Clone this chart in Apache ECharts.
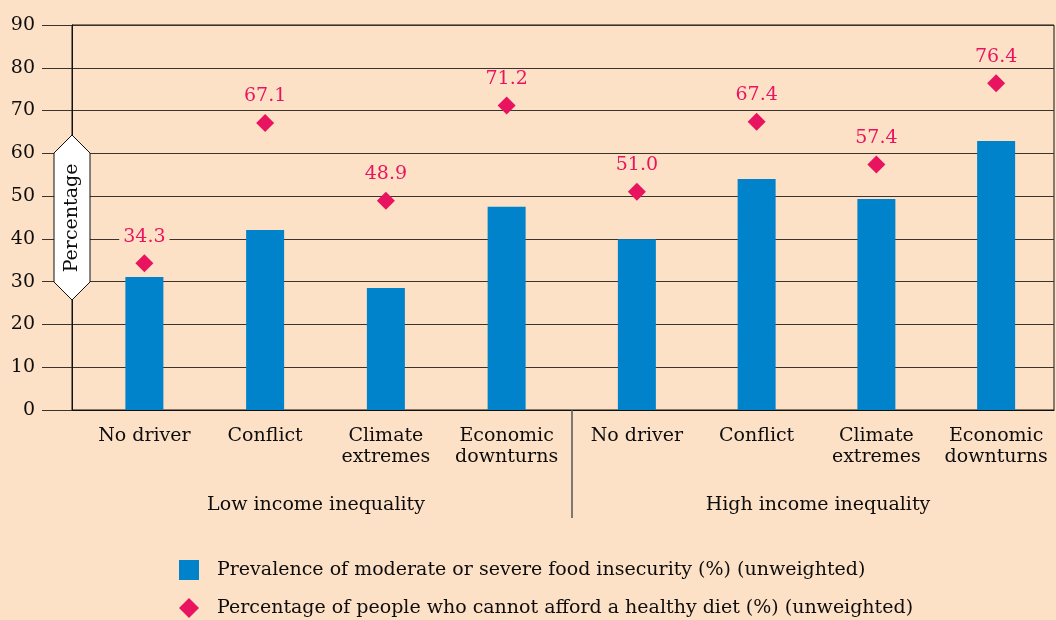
<!DOCTYPE html>
<html>
<head>
<meta charset="utf-8">
<script src="https://cdn.jsdelivr.net/npm/echarts@6/dist/echarts.min.js"></script>
<style>
  html, body { margin: 0; padding: 0; background: #fde1c6; }
  #chart { width: 1056px; height: 620px; }
</style>
</head>
<body>
<div id="chart"></div>
<script>
// categories for each income group
var drivers = ['No driver', 'Conflict', 'Climate\nextremes', 'Economic\ndownturns']
var groups = ['Low income inequality', 'High income inequality']
// food insecurity bars (low group, high group)
var insecurityLow = [31.1, 42.1, 28.5, 47.5]
var insecurityHigh = [39.9, 54.0, 49.3, 62.9]
// cannot afford healthy diet (diamonds)
var dietLow = [34.3, 67.1, 48.9, 71.2]
var dietHigh = [51.0, 67.4, 57.4, 76.4]
var yTicks = { min: 0, max: 90, interval: 10 }

var barName = 'Prevalence of moderate or severe food insecurity (%) (unweighted)'
var dotName = 'Percentage of people who cannot afford a healthy diet (%) (unweighted)'

var bg = '#fde1c6'
var font = 'DejaVu Serif'
var ink = '#0d0d0d'
var blue = '#0083ca'
var pink = '#e9145f'

var chart = echarts.init(document.getElementById('chart'))

function dataGrid (left) {
  return { left: left, width: 483, top: 25, bottom: 210 }
}
function catAxis (idx) {
  return {
    type: 'category',
    gridIndex: idx,
    data: drivers,
    axisLine: { show: false },
    axisTick: { show: false },
    axisLabel: {
      interval: 0,
      margin: 16,
      fontFamily: font,
      fontSize: 19,
      lineHeight: 21,
      color: ink,
      verticalAlign: 'top'
    }
  }
}
function hiddenY (idx) {
  return { type: 'value', gridIndex: idx, min: yTicks.min, max: yTicks.max, show: false }
}
function bars (idx, values) {
  return {
    name: barName,
    type: 'bar',
    xAxisIndex: idx,
    yAxisIndex: idx,
    barWidth: 38,
    itemStyle: { color: blue },
    data: values
  }
}
function dots (idx, values) {
  return {
    name: dotName,
    type: 'scatter',
    xAxisIndex: idx,
    yAxisIndex: idx,
    symbol: 'diamond',
    symbolSize: 18,
    itemStyle: { color: pink, opacity: 1 },
    label: {
      show: true,
      position: 'top',
      distance: 8,
      color: pink,
      fontFamily: font,
      fontSize: 19,
      backgroundColor: bg,
      padding: [0, 4],
      formatter: function (p) { return p.value.toFixed(1) }
    },
    data: values
  }
}

var option = {
  backgroundColor: bg,
  animation: false,
  grid: [
    // frame with the value axis and grid lines
    { left: 72, right: 2, top: 25, bottom: 210, show: true, borderColor: '#111', borderWidth: 1 },
    dataGrid(84),
    dataGrid(577)
  ],
  xAxis: [
    {
      type: 'value',
      gridIndex: 0,
      min: 0,
      max: 1,
      axisLine: { show: true, lineStyle: { color: '#111', width: 1 } },
      axisTick: { show: false },
      axisLabel: { show: false },
      splitLine: { show: false }
    },
    catAxis(1),
    catAxis(2)
  ],
  yAxis: [
    {
      type: 'value',
      gridIndex: 0,
      min: yTicks.min,
      max: yTicks.max,
      interval: yTicks.interval,
      axisLine: { show: true, lineStyle: { color: '#111', width: 1 } },
      axisTick: { show: true, length: 30, lineStyle: { color: '#3b342d' } },
      axisLabel: { margin: 37, fontFamily: font, fontSize: 19, color: ink },
      splitLine: { show: true, lineStyle: { color: '#3b342d', width: 1 } }
    },
    hiddenY(1),
    hiddenY(2)
  ],
  legend: {
    orient: 'vertical',
    left: 179,
    top: 560,
    padding: 0,
    itemWidth: 20,
    itemHeight: 20,
    itemGap: 18,
    textStyle: { fontFamily: font, fontSize: 19, color: ink, padding: [0, 0, 0, 13] },
    data: [
      { name: barName, icon: 'rect' },
      { name: dotName, icon: 'diamond' }
    ]
  },
  graphic: [
    {
      type: 'polygon',
      z: 10,
      shape: { points: [[54, 153], [72, 135], [90, 153], [90, 282], [72, 300], [54, 282]] },
      style: { fill: '#ffffff', stroke: '#111', lineWidth: 1 }
    },
    {
      type: 'text',
      z: 11,
      x: 72,
      y: 218,
      rotation: Math.PI / 2,
      style: { text: 'Percentage', font: '19px "DejaVu Serif"', fill: ink, align: 'center', verticalAlign: 'middle' }
    },
    {
      type: 'line',
      z: 10,
      shape: { x1: 572, y1: 410, x2: 572, y2: 518 },
      style: { stroke: '#555', lineWidth: 1.5 }
    },
    {
      type: 'text',
      x: 316,
      y: 505,
      style: { text: groups[0], font: '19px "DejaVu Serif"', fill: ink, align: 'center', verticalAlign: 'middle' }
    },
    {
      type: 'text',
      x: 818,
      y: 505,
      style: { text: groups[1], font: '19px "DejaVu Serif"', fill: ink, align: 'center', verticalAlign: 'middle' }
    }
  ],
  series: [
    bars(1, insecurityLow),
    bars(2, insecurityHigh),
    dots(1, dietLow),
    dots(2, dietHigh)
  ]
}

chart.setOption(option)
</script>
</body>
</html>
